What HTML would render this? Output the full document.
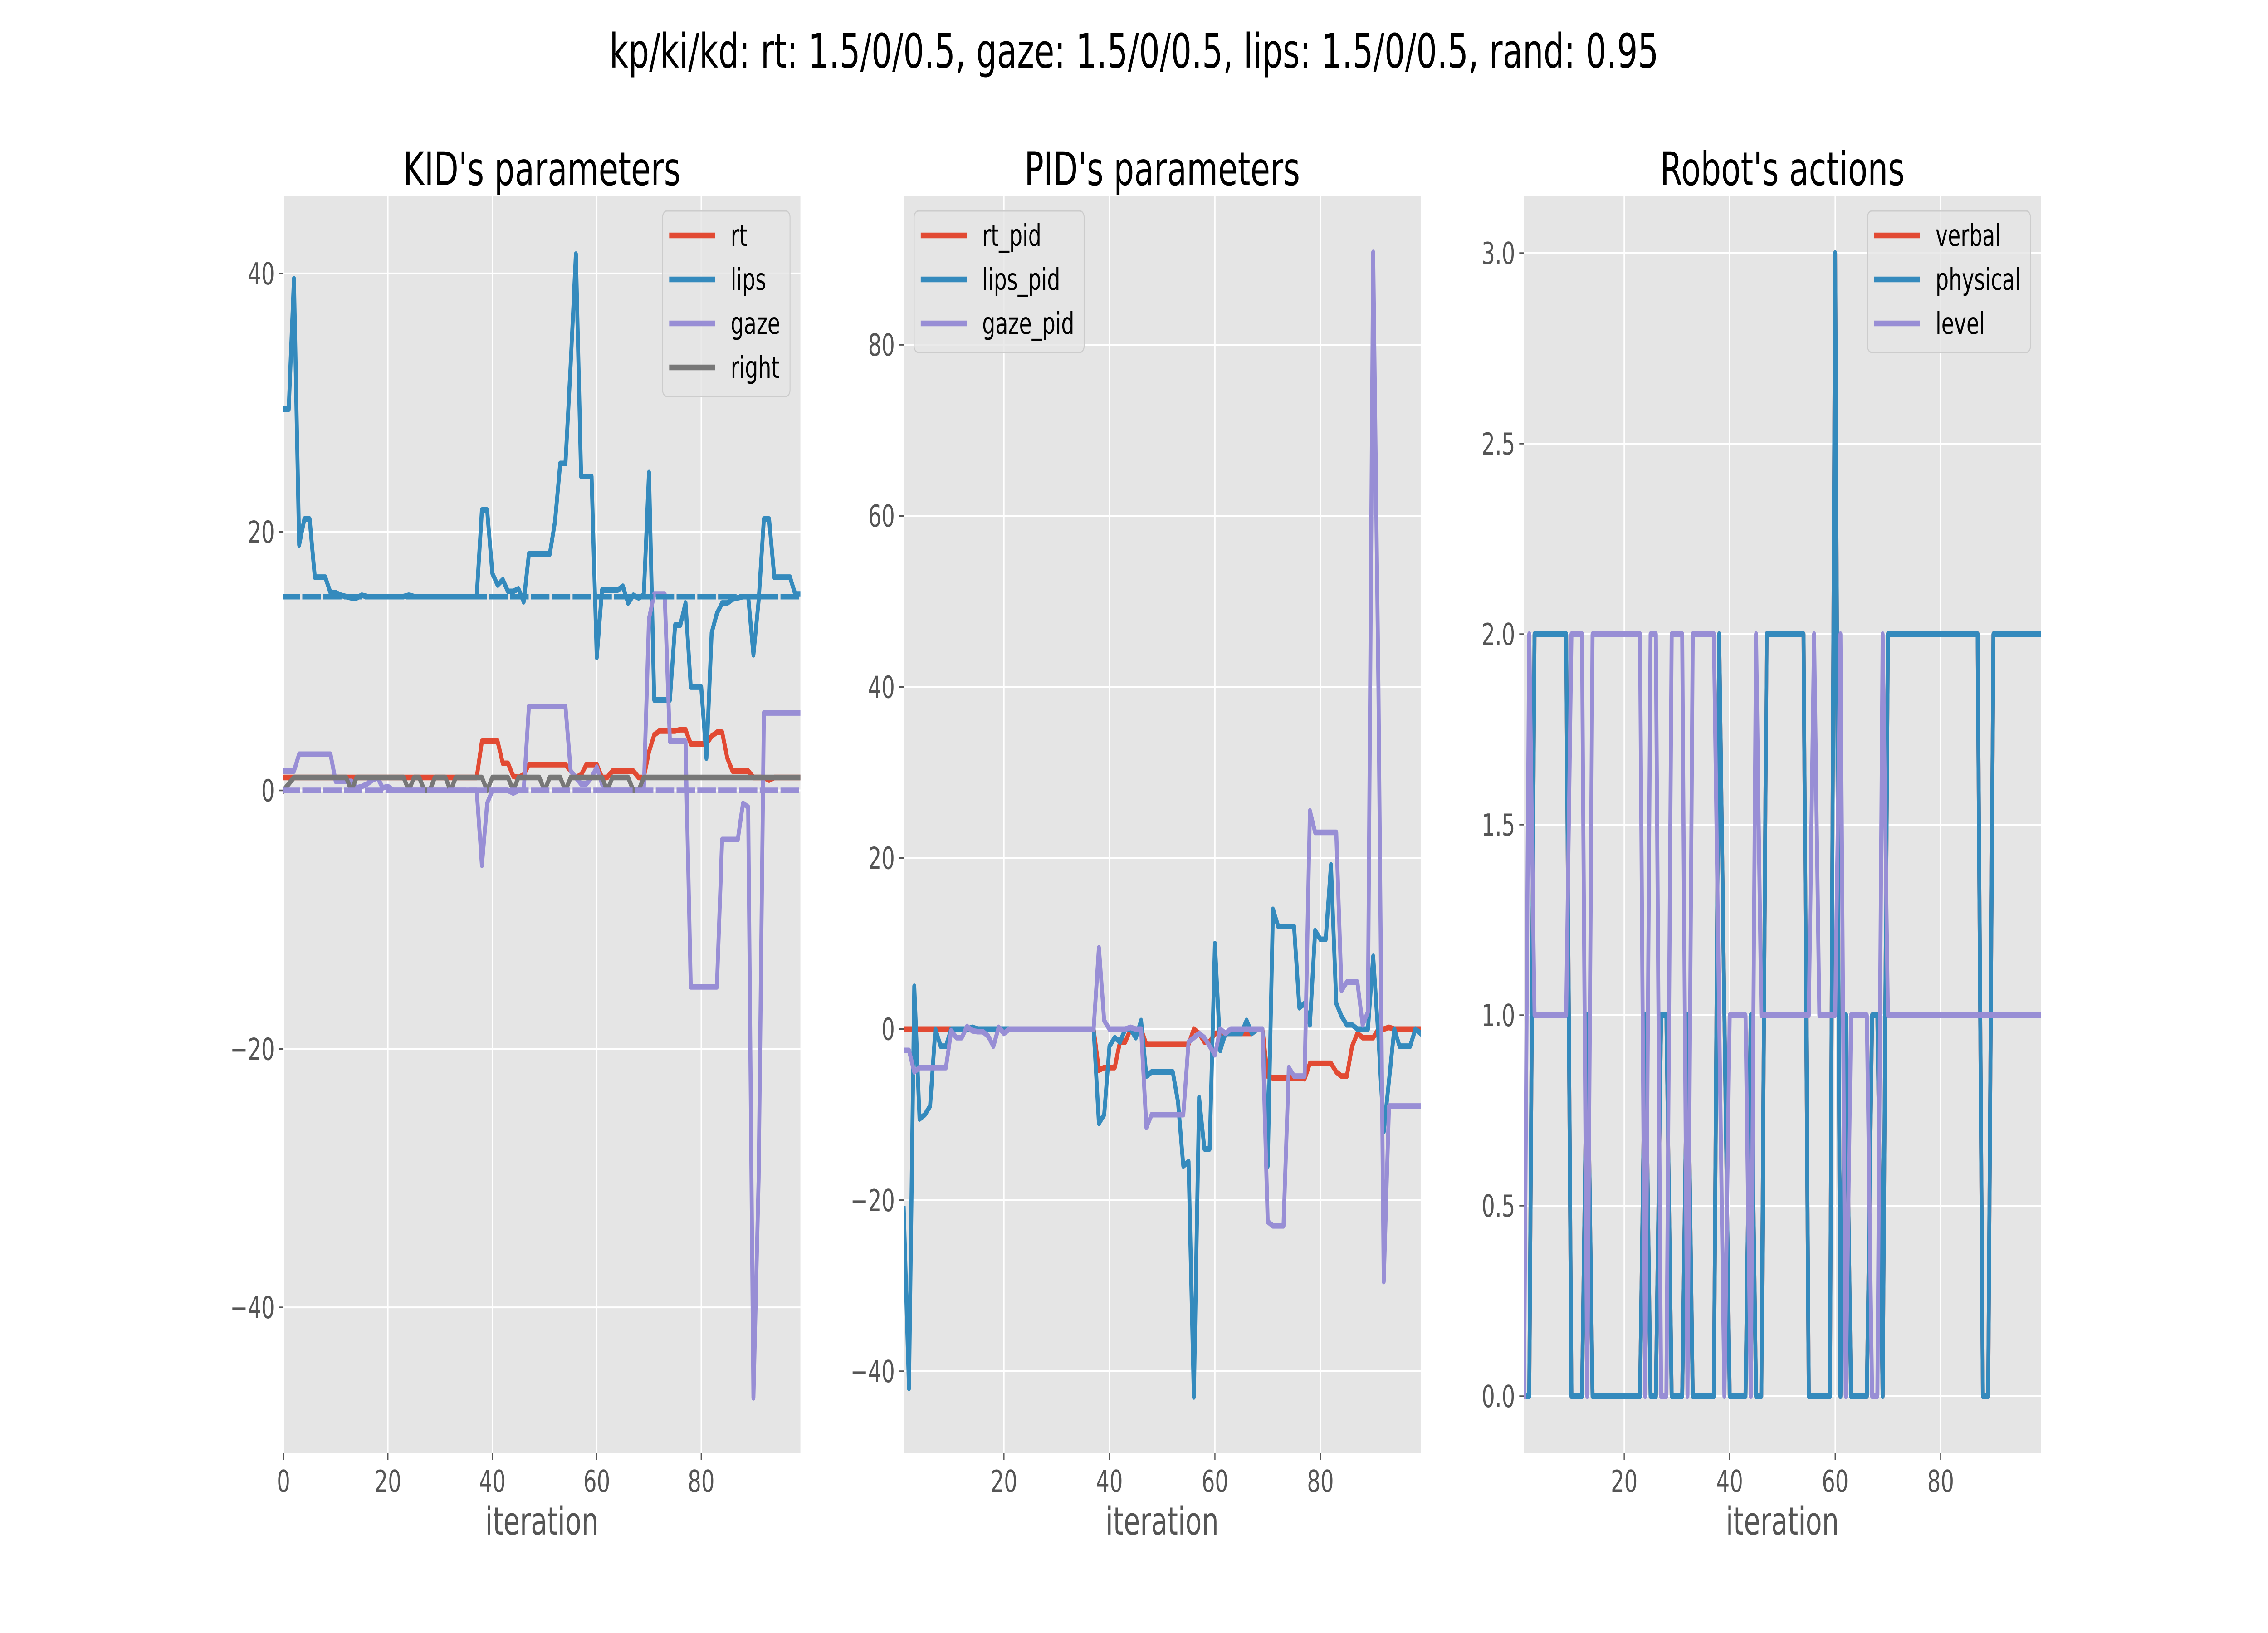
<!DOCTYPE html>
<html><head><meta charset="utf-8"><style>
html,body{margin:0;padding:0;background:#fff;overflow:hidden;width:100vw;height:100vh;}
svg{display:block;width:100vw;height:100vh;font-family:"DejaVu Sans","Liberation Sans",sans-serif;}
</style></head><body>
<svg id="fig" viewBox="0 0 7200 3600" preserveAspectRatio="none" xmlns="http://www.w3.org/2000/svg">
<rect x="0" y="0" width="7200" height="3600" fill="#ffffff"/>
<text x="3600" y="149" font-size="104" text-anchor="middle" fill="#000">kp/ki/kd: rt: 1.5/0/0.5, gaze: 1.5/0/0.5, lips: 1.5/0/0.5, rand: 0.95</text>
</svg>
<script>
// ---------- data ----------
const kidX = Array.from({length:100},(_, i)=>i);
const kidRt = [1,1,1,1,1,1,1,1,1,1,1,1,1,1,1,1,1,1,1,1,1,1,1,1,1,1,1,1,1,1,1,1,1,1,1,1,1,1,3.8,3.8,3.8,3.8,2.1,2.1,1.1,1,1.2,2,2,2,2,2,2,2,2,1.5,1,1.2,2,2,2,1,1,1.5,1.5,1.5,1.5,1.5,1,1,3,4.3,4.6,4.6,4.6,4.6,4.7,4.7,3.6,3.6,3.6,3.6,4.2,4.5,4.5,2.5,1.5,1.5,1.5,1.5,1,1,1,0.8,1,1,1,1,1,1];
const kidLips = [29.5,29.5,39.6,19,21,21,16.5,16.5,16.5,15.3,15.3,15.1,15,14.9,14.9,15.1,15,15,15,15,15,15,15,15,15.1,15,15,15,15,15,15,15,15,15,15,15,15,15,21.7,21.7,16.8,15.9,16.3,15.4,15.4,15.6,14.6,18.3,18.3,18.3,18.3,18.3,20.8,25.3,25.3,33,41.5,24.3,24.3,24.3,10.3,15.5,15.5,15.5,15.5,15.8,14.5,15.1,14.9,15.1,24.6,7,7,7,7,12.8,12.8,14.5,8,8,8,2.5,12.2,13.7,14.5,14.5,14.8,14.9,15,15,10.5,14.7,21,21,16.5,16.5,16.5,16.5,15.2,15.2];
const kidGaze = [1.5,1.5,1.5,2.8,2.8,2.8,2.8,2.8,2.8,2.8,0.7,0.7,0.7,0.7,0.2,0.3,0.5,0.8,1,0.2,0.3,0,0,0,0,0,0,0,0,0,0,0,0,0,0,0,0,0,-5.8,-1,0,0,0,0,-0.2,0,0,6.5,6.5,6.5,6.5,6.5,6.5,6.5,6.5,1.5,1,0.5,0.5,1,1.8,0.5,0,0,0,0,0,0,0,0,13.3,15.2,15.2,15.2,3.8,3.8,3.8,3.8,-15.2,-15.2,-15.2,-15.2,-15.2,-15.2,-3.8,-3.8,-3.8,-3.8,-1,-1.3,-47,-30,6,6,6,6,6,6,6,6];
const kidRight = [0,0.5,1,1,1,1,1,1,1,1,1,1,1,0,1,1,1,1,1,1,1,1,1,1,0,1,1,0,0,1,1,1,0,1,1,1,1,1,1,0,1,1,1,1,0,1,1,1,1,1,0,1,1,1,0,1,1,1,1,1,1,1,0,1,1,1,1,0,0,1,1,1,1,1,1,1,1,1,1,1,1,1,1,1,1,1,1,1,1,1,1,1,1,1,1,1,1,1,1,1];
const kidLipsTarget = [15,15];
const kidGazeTarget = [0,0];
const kidYTicks = [-40,-20,0,20,40];
const kidXTicks = [0,20,40,60,80];

const pidX = Array.from({length:99},(_, i)=>i+1);
const pidRt = [0,0,0,0,0,0,0,0,0,0,0,0,0,0,0,0,0,0,0,0,0,0,0,0,0,0,0,0,0,0,0,0,0,0,0,0,0,-4.8,-4.5,-4.5,-4.5,-1.5,-1.5,0,0,0,-1.8,-1.8,-1.8,-1.8,-1.8,-1.8,-1.8,-1.8,-1.8,0,-0.5,-1.5,-1.5,-0.5,-0.5,-0.5,-0.5,-0.5,-0.5,-0.5,-0.5,0,0,-5.5,-5.7,-5.7,-5.7,-5.7,-5.7,-5.7,-5.8,-4,-4,-4,-4,-4,-5,-5.5,-5.5,-2,-0.5,-1,-1,-1,0,0,0.2,0,0,0,0,0,0];
const pidLips = [-21,-42,5,-10.5,-10,-9,0,-2,-2,0,0,0,0,0.2,0,0,0,0,0,0,0,0,0,0,0,0,0,0,0,0,0,0,0,0,0,0,0,-11,-10,-2,-1,-1.5,0,0,-1,1,-5.5,-5,-5,-5,-5,-5,-8.5,-16,-15.5,-43,-8,-14,-14,10,-2.5,-0.5,-0.5,-0.5,-0.5,1,-0.5,0,0,-16,14,12,12,12,12,2.5,3,0.5,11.5,10.5,10.5,19.2,3,1.5,0.5,0.5,0,0,0,8.5,-1,-12,-6,0,-2,-2,-2,0,-0.5];
const pidGaze = [-2.5,-2.5,-5,-4.5,-4.5,-4.5,-4.5,-4.5,-4.5,-0.2,-1,-1,0.3,-0.2,-0.3,-0.3,-0.8,-2,0.2,-0.5,0,0,0,0,0,0,0,0,0,0,0,0,0,0,0,0,0,9.5,1,0,0,0,0,0.2,0,0,-11.5,-10,-10,-10,-10,-10,-10,-10,-1.5,-1,-0.5,-1,-2,-3,0,-0.5,0,0,0,0,0,0,0,-22.5,-23,-23,-23,-4.5,-5.5,-5.5,-5.5,25.5,23,23,23,23,23,4.5,5.5,5.5,5.5,0.5,2,90.8,40,-29.5,-9,-9,-9,-9,-9,-9,-9];
const pidYTicks = [-40,-20,0,20,40,60,80];
const pidXTicks = [20,40,60,80];

const robX = Array.from({length:99},(_, i)=>i+1);
const robPhysical = [0,0,2,2,2,2,2,2,2,0,0,0,1,0,0,0,0,0,0,0,0,0,0,1,0,0,1,1,0,0,0,1,0,0,0,0,0,2,1,0,0,0,0,1,0,0,2,2,2,2,2,2,2,2,0,0,0,0,0,3,0,1,0,0,0,0,1,1,0,2,2,2,2,2,2,2,2,2,2,2,2,2,2,2,2,2,2,0,0,2,2,2,2,2,2,2,2,2,2];
const robVerbal = robPhysical.slice();
const robLevel = [0,2,1,1,1,1,1,1,1,2,2,2,0,2,2,2,2,2,2,2,2,2,2,0,2,2,0,0,2,2,2,0,2,2,2,2,2,1,0,1,1,1,1,0,2,1,1,1,1,1,1,1,1,1,1,2,1,1,1,1,2,0,1,1,1,1,0,0,2,1,1,1,1,1,1,1,1,1,1,1,1,1,1,1,1,1,1,1,1,1,1,1,1,1,1,1,1,1,1];
const robYTicks = [0,0.5,1,1.5,2,2.5,3];
const robYLabels = ["0.0","0.5","1.0","1.5","2.0","2.5","3.0"];
const robXTicks = [20,40,60,80];

// ---------- drawing ----------
const NS = "http://www.w3.org/2000/svg";
const svg = document.getElementById('fig');
const C = {red:"#E24A33", blue:"#348ABD", purple:"#988ED5", grey:"#777777"};
const TOP = 432, BOT = 3204;
function mk(tag, attrs, parent){const e=document.createElementNS(NS,tag);for(const k in attrs)e.setAttribute(k,attrs[k]);(parent||svg).appendChild(e);return e;}

function axes(o){
  const g = mk('g',{});
  
  
  const L=o.left, R=o.left+1641;
  const sx = v => L + (v-o.xmin)/(o.xmax-o.xmin)*(R-L);
  const sy = v => BOT - (v-o.ymin)/(o.ymax-o.ymin)*(BOT-TOP);
  const bg = mk('rect',{x:L,y:TOP,width:R-L,height:BOT-TOP,fill:"#E5E5E5"},g);
  
  
  const clipId = o.name+'-clip';
  const cp = mk('clipPath',{id:clipId},g); mk('rect',{x:L,y:TOP,width:R-L,height:BOT-TOP},cp);
  o.xt.forEach(v=>{
    const x=sx(v);
    const gl = mk('line',{x1:x,x2:x,y1:TOP,y2:BOT,stroke:"#fff","stroke-width":4},g);
    
    
    mk('line',{x1:x,x2:x,y1:BOT,y2:BOT+15,stroke:"#555","stroke-width":3.5},g);
    const t = mk('text',{x:x,y:BOT+85,"font-size":67,"text-anchor":"middle",fill:"#555"},g);
    t.textContent = String(v).replace('-','\u2212');
    
    
  });
  o.yt.forEach((v,i)=>{
    const y=sy(v);
    const gl = mk('line',{x1:L,x2:R,y1:y,y2:y,stroke:"#fff","stroke-width":4},g);
    
    
    mk('line',{x1:L-15,x2:L,y1:y,y2:y,stroke:"#555","stroke-width":3.5},g);
    const lab = o.ylab ? o.ylab[i] : String(v).replace('-','\u2212');
    const t = mk('text',{x:L-28,y:y+24,"font-size":67,"text-anchor":"end",fill:"#555"},g);
    t.textContent = lab;
    
    
  });
  const lg = mk('g',{"clip-path":"url(#"+clipId+")"},g);
  o.series.forEach(s=>{
    const d = s.y.map((v,i)=>(i?'L':'M')+sx(s.x[i]).toFixed(1)+','+sy(v).toFixed(1)).join(' ');
    const p = mk('path',{d:d,fill:"none",stroke:s.c,"stroke-width":12.5,"stroke-linejoin":"round","stroke-linecap":"square"},lg);
    if(s.dash) p.setAttribute('stroke-dasharray', s.dash);
    
    
  });
  const tt = mk('text',{x:(L+R)/2,y:408,"font-size":102,"text-anchor":"middle",fill:"#000"},g);
  tt.textContent = o.title;
  
  
  const xl = mk('text',{x:(L+R)/2,y:3383,"font-size":85,"text-anchor":"middle",fill:"#555"},g);
  xl.textContent = 'iteration';
  
  
  const lgG = mk('g',{},g);
  
  
  const n = o.legend.length;
  const box = mk('rect',{y:465,height:54+(n-1)*97+64,rx:14,fill:"#E5E5E5","fill-opacity":0.8,stroke:"#CCCCCC","stroke-width":3},lgG);
  let maxW=0; const texts=[];
  o.legend.forEach((e,i)=>{
    const yy = 465+54+i*97;
    const ln = mk('line',{y1:yy,y2:yy,stroke:e.c,"stroke-width":12.5},lgG);
    
    
    const t = mk('text',{y:yy+23,"font-size":66,fill:"#000"},lgG);
    t.textContent = e.label;
    
    
    maxW = Math.max(maxW, t.getComputedTextLength());
    texts.push([ln,t]);
  });
  const W = 216 + maxW + 31;
  const BL = o.legendLeft ? L+33 : R-33-W;
  box.setAttribute('x', BL); box.setAttribute('width', W);
  texts.forEach(([ln,t])=>{ln.setAttribute('x1',BL+21);ln.setAttribute('x2',BL+167);t.setAttribute('x',BL+216);});
}

axes({name:'kid-parameters-chart', left:900, xmin:0, xmax:99, ymin:-51.3, ymax:46.0,
  xt:kidXTicks, yt:kidYTicks, title:"KID's parameters",
  series:[
    {name:'rt-line',x:kidX,y:kidRt,c:C.red},
    {name:'lips-line',x:kidX,y:kidLips,c:C.blue},
    {name:'gaze-line',x:kidX,y:kidGaze,c:C.purple},
    {name:'right-line',x:kidX,y:kidRight,c:C.grey},
    {name:'lips-target-dashed',x:[0,99],y:kidLipsTarget,c:C.blue,dash:"46 20"},
    {name:'gaze-target-dashed',x:[0,99],y:kidGazeTarget,c:C.purple,dash:"46 20"}
  ],
  legend:[{label:'rt',c:C.red},{label:'lips',c:C.blue},{label:'gaze',c:C.purple},{label:'right',c:C.grey}]
});
axes({name:'pid-parameters-chart', left:2869, xmin:1, xmax:99, ymin:-49.6, ymax:97.4,
  xt:pidXTicks, yt:pidYTicks, title:"PID's parameters", legendLeft:true,
  series:[
    {name:'rt-pid-line',x:pidX,y:pidRt,c:C.red},
    {name:'lips-pid-line',x:pidX,y:pidLips,c:C.blue},
    {name:'gaze-pid-line',x:pidX,y:pidGaze,c:C.purple}
  ],
  legend:[{label:'rt_pid',c:C.red},{label:'lips_pid',c:C.blue},{label:'gaze_pid',c:C.purple}]
});
axes({name:'robot-actions-chart', left:4838, xmin:1, xmax:99, ymin:-0.15, ymax:3.15,
  xt:robXTicks, yt:robYTicks, ylab:robYLabels, title:"Robot's actions",
  series:[
    {name:'verbal-line',x:robX,y:robVerbal,c:C.red},
    {name:'physical-line',x:robX,y:robPhysical,c:C.blue},
    {name:'level-line',x:robX,y:robLevel,c:C.purple}
  ],
  legend:[{label:'verbal',c:C.red},{label:'physical',c:C.blue},{label:'level',c:C.purple}]
});
</script>
</body></html>
